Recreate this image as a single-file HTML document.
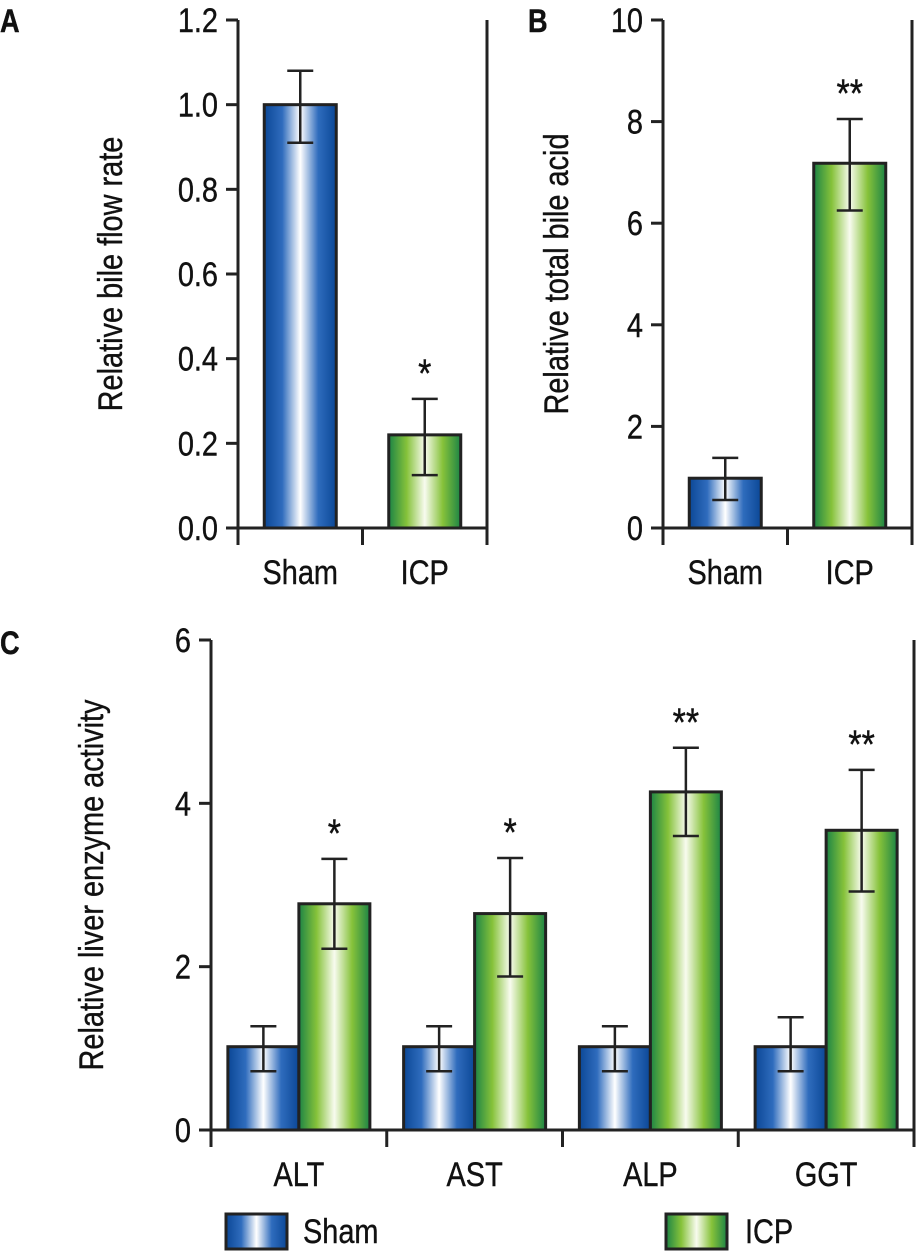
<!DOCTYPE html>
<html><head><meta charset="utf-8"><style>
body{margin:0;background:#fff}
svg text{font-family:"Liberation Sans Narrow","Liberation Sans",sans-serif;fill:#111}
</style></head><body>
<svg id="s" width="922" height="1252" viewBox="0 0 922 1252" xmlns="http://www.w3.org/2000/svg">
<defs>
<linearGradient id="gb" x1="0" x2="1" y1="0" y2="0">
<stop offset="0" stop-color="#0b4796"/><stop offset="0.25" stop-color="#2f6cbd"/><stop offset="0.5" stop-color="#ffffff"/><stop offset="0.75" stop-color="#2f6cbd"/><stop offset="1" stop-color="#0b4796"/></linearGradient>
<linearGradient id="gg" x1="0" x2="1" y1="0" y2="0">
<stop offset="0" stop-color="#1c8445"/><stop offset="0.25" stop-color="#86c23a"/><stop offset="0.5" stop-color="#f8fbef"/><stop offset="0.75" stop-color="#86c23a"/><stop offset="1" stop-color="#1c8445"/></linearGradient>
</defs>
<g id="root"></g>
</svg>
<script>
// Panel A
const aCats=["Sham","ICP"];
const aVals=[1.0,0.22];
const aLo=[0.91,0.125];
const aHi=[1.08,0.305];
const aSig=["","*"];
const aTicks=["0.0","0.2","0.4","0.6","0.8","1.0","1.2"];
// Panel B
const bCats=["Sham","ICP"];
const bVals=[0.98,7.18];
const bLo=[0.55,6.25];
const bHi=[1.38,8.05];
const bSig=["","**"];
const bTicks=["0","2","4","6","8","10"];
// Panel C
const cCats=["ALT","AST","ALP","GGT"];
const cSham=[1.02,1.02,1.02,1.02];
const cShamLo=[0.72,0.72,0.72,0.72];
const cShamHi=[1.27,1.27,1.27,1.38];
const cIcp=[2.77,2.65,4.14,3.67];
const cIcpLo=[2.22,1.88,3.6,2.92];
const cIcpHi=[3.32,3.33,4.68,4.41];
const cSig=["*","*","**","**"];
const cTicks=["0","2","4","6"];

const NS="http://www.w3.org/2000/svg";
const root=document.getElementById('root');
function mk(t,a,p){const e=document.createElementNS(NS,t);for(const k in a)e.setAttribute(k,a[k]);(p||root).appendChild(e);return e;}
function txt(x,y,s,size,anchor,extra,rot,p){
  const tr=`translate(${x} ${y})`+(rot?` rotate(${rot})`:'')+' scale(0.85 1)';
  const e=mk('text',Object.assign({x:0,y:0,'font-size':size,'text-anchor':anchor||'middle',transform:tr,stroke:'#111','stroke-width':0.4},extra||{}),p);
  e.textContent=s;return e;}

function frame(x0,x1,y0,y1,name){
  const l=mk('path',{d:`M${x0} ${y1}V${y0}M${x1} ${y1}V${y0}M${x0} ${y0}H${x1}`,stroke:'#222','stroke-width':3,fill:'none'});
  
  
}
function err(cx,yl,yh,w){
  const e=mk('path',{d:`M${cx} ${yl}V${yh}M${cx-w} ${yl}H${cx+w}M${cx-w} ${yh}H${cx+w}`,stroke:'#222','stroke-width':2.5,fill:'none'});
  
  
}
function bar(x,w,y,yb,fill,name){
  const r=mk('rect',{x:x,y:y,width:w,height:yb-y,fill:fill,stroke:'#222','stroke-width':3});
  
  
}
function yaxis(x0,x1,yb,yt,ticks,max,title,tx,name){
  frame(x0,x1,yb,yt,name);
  const sc=v=>yb-(v/max)*(yb-yt);
  ticks.forEach(t=>{const y=sc(parseFloat(t));
    const tk=mk('line',{x1:x0-12,x2:x0,y1:y,y2:y,stroke:'#222','stroke-width':3});
    
    
    const tl=txt(x0-20,y+12,t,34,'end');
    
    
  });
  const ty=(yb+yt)/2;
  const tt=txt(tx,ty,title,34,'middle',{},-90);
  
  
  return sc;
}
function panelLabel(x,y,s){const e=txt(x,y,s,32,'start',{'font-weight':'bold'});}

function simple(x0,x1,cats,vals,lo,hi,sig,ticks,max,title,tx,name){
  const yb=528,yt=20;
  const sc=yaxis(x0,x1,yb,yt,ticks,max,title,tx,name);
  const slot=(x1-x0)/cats.length;
  cats.forEach((c,i)=>{
    const cx=x0+slot*(i+0.5);
    bar(cx-36,72,sc(vals[i]),yb,i==0?'url(#gb)':'url(#gg)','bar-'+c.toLowerCase());
    err(cx,sc(lo[i]),sc(hi[i]),13);
    if(sig[i]){const s=txt(cx,sc(hi[i])-12,sig[i],40);}
    const l=txt(cx,584,c,34);
  });
  for(let i=0;i<=cats.length;i++){const x=x0+slot*i;const t=mk('line',{x1:x,x2:x,y1:yb,y2:yb+17,stroke:'#222','stroke-width':3});}
}
simple(238,487,aCats,aVals,aLo,aHi,aSig,aTicks,1.2,'Relative bile flow rate',122,'panel-a');
simple(663,912,bCats,bVals,bLo,bHi,bSig,bTicks,10,'Relative total bile acid',568,'panel-b');
panelLabel(0,32,'A');panelLabel(528,32,'B');panelLabel(0,654,'C');

(function(){
  const x0=211,x1=914,yb=1130,yt=640;
  const sc=yaxis(x0,x1,yb,yt,cTicks,6,'Relative liver enzyme activity',103,'panel-c');
  const slot=(x1-x0)/cCats.length;
  cCats.forEach((c,i)=>{
    const cx=x0+slot*(i+0.5);
    bar(cx-71,71,sc(cSham[i]),yb,'url(#gb)','bar-sham-'+c.toLowerCase());
    bar(cx,71,sc(cIcp[i]),yb,'url(#gg)','bar-icp-'+c.toLowerCase());
    err(cx-35.5,sc(cShamLo[i]),sc(cShamHi[i]),13);
    err(cx+35.5,sc(cIcpLo[i]),sc(cIcpHi[i]),13);
    if(cSig[i]){const s=txt(cx+35.5,sc(cIcpHi[i])-12,cSig[i],40);}
    const l=txt(cx,1186,c,34);
  });
  for(let i=0;i<=cCats.length;i++){const x=x0+slot*i;const t=mk('line',{x1:x,x2:x,y1:yb,y2:yb+17,stroke:'#222','stroke-width':3});}
})();

const lg=mk('g',{});


[['Sham','url(#gb)',226,303],['ICP','url(#gg)',666,745]].forEach(([n,f,x,tx])=>{
  const r=mk('rect',{x:x,y:1214,width:61,height:35,fill:f,stroke:'#222','stroke-width':3},lg);
  
  
  const t=txt(tx,1243,n,34,'start',{},0,lg);
  
  
});
</script>
</body></html>
